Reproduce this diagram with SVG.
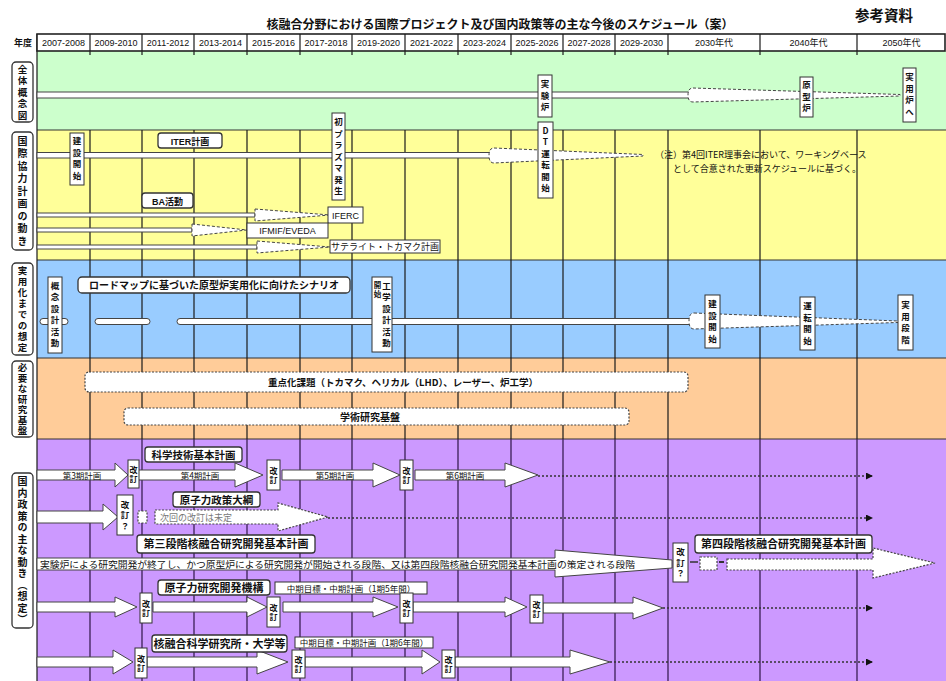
<svg xmlns="http://www.w3.org/2000/svg" width="946" height="681" viewBox="0 0 946 681">
<style>
text { font-family: "Liberation Sans", "Noto Sans CJK JP", sans-serif; fill:#111; }
.j { font-family: "Noto Sans CJK JP", "Liberation Sans", sans-serif; }
.b { font-weight: bold; }
.v { writing-mode: vertical-rl; text-orientation: upright; text-anchor: middle; font-family: "Noto Sans CJK JP", sans-serif; }
.h { text-anchor: middle; }
.box { fill:#fff; stroke:#333; stroke-width:1; }
.rl { fill:#fff; stroke:#333; stroke-width:1.3; }
.bar { fill:#fff; stroke:#444; stroke-width:1; }
.dsh { stroke-dasharray: 3 2; }
.dbox { fill:#fff; stroke:#444; stroke-width:1.2; stroke-dasharray: 2 1.5; }
.dot { fill:none; stroke:#333; stroke-width:1.5; stroke-dasharray: 2 2; }
.grid { stroke:#1a1a1a; stroke-width:1.2; }
.pgrid { stroke:#3b1f55; stroke-width:1.3; }
.sep { stroke:#333; stroke-width:1; }
</style>
<defs>
<marker id="ah" markerWidth="7" markerHeight="7" refX="6" refY="3.5" orient="auto" markerUnits="userSpaceOnUse"><path d="M0,0 L7,3.5 L0,7 Z" fill="#111"/></marker>
</defs>
<rect width="946" height="681" fill="#fff"/>

<!-- title -->
<g id="title">
<text x="500" y="29" class="j b h" font-size="12">核融合分野における国際プロジェクト及び国内政策等の主な今後のスケジュール（案）</text>
<text x="884" y="21" class="j b h" font-size="14.5">参考資料</text>
</g>

<!-- row backgrounds -->
<g id="rows">
<rect x="37" y="51" width="909" height="79" fill="#ccffcc"/>
<rect x="37" y="130" width="909" height="130" fill="#ffff99"/>
<rect x="37" y="260" width="909" height="98" fill="#99ccff"/>
<rect x="37" y="358" width="909" height="81" fill="#ffcc99"/>
<rect x="37" y="439" width="909" height="242" fill="#cc99ff"/>
<line x1="37" y1="130" x2="946" y2="130" class="sep"/>
<line x1="37" y1="260" x2="946" y2="260" class="sep"/>
<line x1="37" y1="358" x2="946" y2="358" class="sep"/>
<line x1="37" y1="439" x2="946" y2="439" class="sep"/>
</g>

<!-- grid -->
<g id="grid">
<line x1="37" y1="34" x2="37" y2="681" class="grid"/>
<g class="grid">
<line x1="90" y1="130" x2="90" y2="439"/><line x1="142" y1="130" x2="142" y2="439"/><line x1="194" y1="130" x2="194" y2="439"/>
<line x1="247" y1="130" x2="247" y2="439"/><line x1="300" y1="130" x2="300" y2="439"/><line x1="352" y1="130" x2="352" y2="439"/>
<line x1="405" y1="130" x2="405" y2="439"/><line x1="458" y1="130" x2="458" y2="439"/><line x1="511" y1="130" x2="511" y2="439"/>
<line x1="563" y1="130" x2="563" y2="439"/><line x1="615" y1="130" x2="615" y2="439"/><line x1="668" y1="130" x2="668" y2="439"/>
<line x1="760" y1="130" x2="760" y2="439"/><line x1="857" y1="130" x2="857" y2="439"/>
<line x1="90" y1="51" x2="90" y2="55"/><line x1="142" y1="51" x2="142" y2="55"/><line x1="194" y1="51" x2="194" y2="55"/>
<line x1="247" y1="51" x2="247" y2="55"/><line x1="300" y1="51" x2="300" y2="55"/><line x1="352" y1="51" x2="352" y2="55"/>
<line x1="405" y1="51" x2="405" y2="55"/><line x1="458" y1="51" x2="458" y2="55"/><line x1="511" y1="51" x2="511" y2="55"/>
<line x1="563" y1="51" x2="563" y2="55"/><line x1="615" y1="51" x2="615" y2="55"/><line x1="668" y1="51" x2="668" y2="55"/>
<line x1="760" y1="51" x2="760" y2="55"/><line x1="857" y1="51" x2="857" y2="55"/>
</g>
<g class="pgrid">
<line x1="90" y1="439" x2="90" y2="681"/><line x1="142" y1="439" x2="142" y2="681"/><line x1="194" y1="439" x2="194" y2="681"/>
<line x1="247" y1="439" x2="247" y2="681"/><line x1="300" y1="439" x2="300" y2="681"/><line x1="352" y1="439" x2="352" y2="681"/>
<line x1="405" y1="439" x2="405" y2="681"/><line x1="458" y1="439" x2="458" y2="681"/><line x1="511" y1="439" x2="511" y2="681"/>
<line x1="563" y1="439" x2="563" y2="681"/><line x1="615" y1="439" x2="615" y2="681"/><line x1="668" y1="439" x2="668" y2="681"/>
<line x1="760" y1="439" x2="760" y2="681"/><line x1="857" y1="439" x2="857" y2="681"/>
</g>
</g>

<!-- header -->
<g id="header">
<text x="23" y="46" class="j b h" font-size="9">年度</text>
<rect x="37" y="34" width="908" height="17" fill="#fff" stroke="#222" stroke-width="1.6"/>
<g class="grid">
<line x1="90" y1="34" x2="90" y2="51"/><line x1="142" y1="34" x2="142" y2="51"/><line x1="194" y1="34" x2="194" y2="51"/>
<line x1="247" y1="34" x2="247" y2="51"/><line x1="300" y1="34" x2="300" y2="51"/><line x1="352" y1="34" x2="352" y2="51"/>
<line x1="405" y1="34" x2="405" y2="51"/><line x1="458" y1="34" x2="458" y2="51"/><line x1="511" y1="34" x2="511" y2="51"/>
<line x1="563" y1="34" x2="563" y2="51"/><line x1="615" y1="34" x2="615" y2="51"/><line x1="668" y1="34" x2="668" y2="51"/>
<line x1="760" y1="34" x2="760" y2="51"/><line x1="857" y1="34" x2="857" y2="51"/>
</g>
<g font-size="9" class="h">
<text x="63.5" y="46" class="h">2007-2008</text><text x="116" y="46" class="h">2009-2010</text><text x="168" y="46" class="h">2011-2012</text>
<text x="220.5" y="46" class="h">2013-2014</text><text x="273.5" y="46" class="h">2015-2016</text><text x="326" y="46" class="h">2017-2018</text>
<text x="378.5" y="46" class="h">2019-2020</text><text x="431.5" y="46" class="h">2021-2022</text><text x="484.5" y="46" class="h">2023-2024</text>
<text x="537" y="46" class="h">2025-2026</text><text x="589" y="46" class="h">2027-2028</text><text x="641.5" y="46" class="h">2029-2030</text>
<text x="714" y="46" class="h">2030年代</text><text x="808.5" y="46" class="h">2040年代</text><text x="901.5" y="46" class="h">2050年代</text>
</g>
</g>

<!-- row labels -->
<g id="label-overall"><rect x="12" y="62" width="21" height="60" rx="4" class="rl"/><text x="22.5" y="93" class="v b" font-size="9.5" style="letter-spacing:2px">全体概念図</text></g>
<g id="label-intl"><rect x="12" y="132" width="21" height="118" rx="4" class="rl"/><text x="22.5" y="192" class="v b" font-size="10" style="letter-spacing:2.5px">国際協力計画の動き</text></g>
<g id="label-practical"><rect x="12" y="263" width="21" height="92" rx="4" class="rl"/><text x="22.5" y="310" class="v b" font-size="9.5" style="letter-spacing:1.5px">実用化までの想定</text></g>
<g id="label-research"><rect x="12" y="361" width="21" height="76" rx="4" class="rl"/><text x="22.5" y="399.5" class="v b" font-size="9.5" style="letter-spacing:1px">必要な研究基盤</text></g>
<g id="label-policy"><rect x="12" y="473" width="21" height="155" rx="4" class="rl"/><text x="22.5" y="551" class="v b" font-size="10" style="letter-spacing:1.5px">国内政策の主な動き（想定）</text></g>

<!-- connectors: timeline bars and arrows -->
<g id="connectors">
<!-- green -->
<rect x="37" y="92" width="655" height="6" class="bar"/>
<path d="M693,88 L900,94.5 L900,96 L693,102 Q688,102 688,95 Q688,88 693,88 Z" class="bar dsh"/>
<!-- ITER -->
<rect x="37" y="152.5" width="456" height="5.5" class="bar"/>
<path d="M494,148 L643,154.5 L643,156 L494,163 Q489,163 489,155.5 Q489,148 494,148 Z" class="bar dsh"/>
<!-- BA -->
<rect x="37" y="213" width="218" height="4" class="bar"/>
<path d="M255,209 L330,215 L255,221 Z" class="bar dsh"/>
<rect x="37" y="228" width="155" height="4" class="bar"/>
<path d="M192,224 L247,230 L192,236 Z" class="bar dsh"/>
<rect x="37" y="245" width="220" height="4" class="bar"/>
<path d="M257,241 L330,247 L257,253 Z" class="bar dsh"/>
<!-- blue -->
<rect x="40" y="318.5" width="28" height="6" rx="3" class="bar"/>
<rect x="95" y="318.5" width="55" height="6" rx="3" class="bar"/>
<rect x="177" y="318.5" width="515" height="6" rx="3" class="bar"/>
<path d="M694,313 L898,321 L898,322.5 L694,329 Q689,329 689,321 Q689,313 694,313 Z" class="bar dsh"/>
<!-- purple row A -->
<path d="M37,470 L115,470 L115,463 L128,475 L115,487 L115,480 L37,480 Z" class="bar"/>
<path d="M138,470 L235,470 L235,463 L263,475 L235,487 L235,480 L138,480 Z" class="bar"/>
<path d="M282,470 L373,470 L373,463 L400,475 L373,487 L373,480 L282,480 Z" class="bar"/>
<path d="M415,470 L505,470 L505,463 L538,475 L505,487 L505,480 L415,480 Z" class="bar"/>
<line x1="538" y1="476" x2="872" y2="476" class="dot" marker-end="url(#ah)"/>
<!-- row B -->
<path d="M37,511 L103,511 L103,504 L118,517 L103,530 L103,523 L37,523 Z" class="bar"/>
<rect x="138" y="511" width="9" height="12" class="dbox"/>
<path d="M155,510 L278,510 L278,503 L328,517 L278,531 L278,524 L155,524 Z" class="dbox"/>
<line x1="328" y1="518" x2="872" y2="518" class="dot" marker-end="url(#ah)"/>
<!-- row C -->
<path d="M37,558 L555,558 L555,550 L672,560 L672,568 L555,577 L555,570 L37,570 Z" class="bar"/>
<line x1="690" y1="562" x2="698" y2="562" stroke="#333" stroke-width="1.5"/>
<rect x="700" y="557" width="17" height="13" class="dbox"/>
<line x1="719" y1="562" x2="724" y2="562" stroke="#333" stroke-width="2"/>
<path d="M727,559 L873,559 L873,548 L935,563 L873,578 L873,570 L727,570 Z" class="dbox"/>
<!-- row D -->
<path d="M37,602 L115,602 L115,597 L137,607 L115,617 L115,612 L37,612 Z" class="bar"/>
<path d="M153,602 L247,602 L247,597 L267,607 L247,617 L247,612 L153,612 Z" class="bar"/>
<path d="M283,602 L373,602 L373,597 L398,607 L373,617 L373,612 L283,612 Z" class="bar"/>
<path d="M413,602 L505,602 L505,597 L527,607 L505,617 L505,612 L413,612 Z" class="bar"/>
<path d="M543,603 L633,603 L633,597 L663,608 L633,619 L633,613 L543,613 Z" class="bar"/>
<line x1="663" y1="608" x2="872" y2="608" class="dot" marker-end="url(#ah)"/>
<!-- row E -->
<path d="M37,657 L113,657 L113,650 L133,662 L113,674 L113,667 L37,667 Z" class="bar"/>
<path d="M147,657 L257,657 L257,650 L288,662 L257,674 L257,667 L147,667 Z" class="bar"/>
<path d="M305,657 L422,657 L422,650 L440,662 L422,674 L422,667 L305,667 Z" class="bar"/>
<path d="M455,657 L570,657 L570,650 L610,662 L570,674 L570,667 L455,667 Z" class="bar"/>
<line x1="610" y1="662" x2="872" y2="662" class="dot" marker-end="url(#ah)"/>
</g>

<!-- green row nodes -->
<g id="n-jikkenro"><rect x="538" y="75" width="14" height="42" class="box"/><text x="545" y="97" class="v b" font-size="8.5" style="letter-spacing:3px">実験炉</text></g>
<g id="n-genkeiro"><rect x="800" y="77" width="13" height="40" class="box"/><text x="806.5" y="98" class="v b" font-size="8.5" style="letter-spacing:3px">原型炉</text></g>
<g id="n-jitsuyoro"><rect x="903" y="68" width="13" height="54" class="box"/><text x="909.5" y="96" class="v b" font-size="8.5" style="letter-spacing:3px">実用炉へ</text></g>

<!-- yellow row nodes -->
<g id="n-iter-start"><rect x="70" y="133" width="14" height="52" class="box"/><text x="77" y="160" class="v b" font-size="8.5" style="letter-spacing:3px">建設開始</text></g>
<g id="n-iter"><rect x="158" y="133" width="64" height="15" rx="3" class="rl"/><text x="190" y="144.5" class="h b" font-size="9">ITER計画</text></g>
<g id="n-first-plasma"><rect x="332" y="113" width="13" height="87" class="box"/><text x="338.5" y="158" class="v b" font-size="8.5" style="letter-spacing:3px">初プラズマ発生</text></g>
<g id="n-dt"><rect x="538" y="122" width="15" height="76" class="box"/><text x="545.5" y="161" class="v b" font-size="8.5" style="letter-spacing:3px">DT運転開始</text></g>
<g id="n-note"><text x="655" y="158" font-size="9" class="j">（注）第4回ITER理事会において、ワーキングベース</text><text x="673" y="171.5" font-size="9" class="j">として合意された更新スケジュールに基づく。</text></g>
<g id="n-ba"><rect x="142" y="193" width="51" height="15" rx="3" class="rl"/><text x="167.5" y="204.5" class="h b" font-size="9">BA活動</text></g>
<g id="n-iferc"><rect x="328" y="207" width="35" height="16" class="box"/><text x="345.5" y="218.5" class="h" font-size="9">IFERC</text></g>
<g id="n-ifmif"><rect x="247" y="223" width="81" height="15" class="box"/><text x="287.5" y="234" class="h" font-size="9">IFMIF/EVEDA</text></g>
<g id="n-satellite"><rect x="330" y="240" width="110" height="13" class="box"/><text x="385" y="250" class="h j" font-size="9">サテライト・トカマク計画</text></g>

<!-- blue row nodes -->
<g id="n-concept"><rect x="48" y="277" width="14" height="76" class="box"/><text x="55" y="316" class="v b" font-size="8.5" style="letter-spacing:3px">概念設計活動</text></g>
<g id="n-roadmap"><rect x="78" y="277" width="272" height="16" rx="4" class="rl"/><text x="214" y="289" class="h b j" font-size="10">ロードマップに基づいた原型炉実用化に向けたシナリオ</text></g>
<g id="n-eng"><rect x="372" y="277" width="20" height="75" class="box"/><text x="386.5" y="316" class="v b" font-size="8.5" style="letter-spacing:3px">工学設計活動</text><text x="377.5" y="290" class="v b" font-size="7.5" style="letter-spacing:1px">開始</text></g>
<g id="n-construct"><rect x="705" y="295" width="15" height="53" class="box"/><text x="712.5" y="323" class="v b" font-size="8.5" style="letter-spacing:3px">建設開始</text></g>
<g id="n-operate"><rect x="800" y="297" width="15" height="53" class="box"/><text x="807.5" y="325" class="v b" font-size="8.5" style="letter-spacing:3px">運転開始</text></g>
<g id="n-practical"><rect x="898" y="295" width="15" height="55" class="box"/><text x="905.5" y="324" class="v b" font-size="8.5" style="letter-spacing:3px">実用段階</text></g>

<!-- orange row nodes -->
<g id="n-priority"><rect x="85" y="372" width="603" height="20" rx="4" class="dbox"/><text x="403" y="386" class="h b j" font-size="9.5">重点化課題（トカマク、ヘリカル（LHD）、レーザー、炉工学）</text></g>
<g id="n-academic"><rect x="124" y="408" width="505" height="17" rx="4" class="dbox"/><text x="370" y="420.5" class="h b j" font-size="10">学術研究基盤</text></g>

<!-- purple row nodes -->
<g id="n-stplan"><rect x="145" y="447" width="97" height="15" rx="3" class="rl"/><text x="193.5" y="458.5" class="h b j" font-size="10.5">科学技術基本計画</text></g>
<g id="t-rowA" font-size="8.5" class="j">
<text x="82" y="478.5" class="h j">第3期計画</text><text x="200" y="478.5" class="h j">第4期計画</text>
<text x="335" y="478.5" class="h j">第5期計画</text><text x="465" y="478.5" class="h j">第6期計画</text>
</g>
<g id="n-rev-a1"><rect x="128" y="460" width="11" height="28" class="box"/><text x="133.5" y="474.5" class="v b" font-size="8" style="letter-spacing:1px">改訂</text></g>
<g id="n-rev-a2"><rect x="267" y="460" width="13" height="30" class="box"/><text x="273.5" y="475.5" class="v b" font-size="8" style="letter-spacing:1px">改訂</text></g>
<g id="n-rev-a3"><rect x="400" y="460" width="13" height="30" class="box"/><text x="406.5" y="475.5" class="v b" font-size="8" style="letter-spacing:1px">改訂</text></g>

<g id="n-nuclearpolicy"><rect x="173" y="492" width="87" height="15" rx="3" class="rl"/><text x="216.5" y="503.5" class="h b j" font-size="10.5">原子力政策大綱</text></g>
<g id="n-rev-b1"><rect x="117" y="495" width="16" height="40" class="box"/><text x="125" y="516" class="v b" font-size="8.5" style="letter-spacing:2px">改訂？</text></g>
<text x="160" y="521" font-size="9" class="j" style="fill:#777">次回の改訂は未定</text>

<g id="n-plan3"><rect x="137" y="535" width="178" height="18" rx="3" class="rl"/><text x="226" y="548" class="h b j" font-size="11">第三段階核融合研究開発基本計画</text></g>
<text x="40" y="567.5" font-size="9.5" class="j" textLength="595" lengthAdjust="spacingAndGlyphs">実験炉による研究開発が終了し、かつ原型炉による研究開発が開始される段階、又は第四段階核融合研究開発基本計画の策定される段階</text>
<g id="n-rev-c1"><rect x="673" y="543" width="15" height="39" class="box"/><text x="680.5" y="563.5" class="v b" font-size="8.5" style="letter-spacing:2px">改訂？</text></g>
<g id="n-plan4"><rect x="695" y="535" width="177" height="18" rx="3" class="rl"/><text x="783.5" y="548" class="h b j" font-size="11">第四段階核融合研究開発基本計画</text></g>

<g id="n-jaea"><rect x="158" y="580" width="112" height="15" rx="3" class="rl"/><text x="214" y="591.5" class="h b j" font-size="11">原子力研究開発機構</text></g>
<g id="n-jaea-term"><rect x="275" y="582" width="152" height="12" class="box"/><text x="351" y="591.5" class="h j" font-size="8.5">中期目標・中期計画（1期5年間）</text></g>
<g id="n-rev-d1"><rect x="140" y="593" width="12" height="30" class="box"/><text x="146" y="608.5" class="v b" font-size="8" style="letter-spacing:1px">改訂</text></g>
<g id="n-rev-d2"><rect x="267" y="597" width="13" height="30" class="box"/><text x="273.5" y="612.5" class="v b" font-size="8" style="letter-spacing:1px">改訂</text></g>
<g id="n-rev-d3"><rect x="400" y="593" width="13" height="30" class="box"/><text x="406.5" y="608.5" class="v b" font-size="8" style="letter-spacing:1px">改訂</text></g>
<g id="n-rev-d4"><rect x="530" y="595" width="13" height="28" class="box"/><text x="536.5" y="609.5" class="v b" font-size="8" style="letter-spacing:1px">改訂</text></g>

<g id="n-nifs"><rect x="152" y="635" width="135" height="17" rx="3" class="rl"/><text x="219.5" y="647.5" class="h b j" font-size="11">核融合科学研究所・大学等</text></g>
<g id="n-nifs-term"><rect x="295" y="637" width="138" height="11" class="box"/><text x="364" y="645.5" class="h j" font-size="8.5">中期目標・中期計画（1期6年間）</text></g>
<g id="n-rev-e1"><rect x="135" y="648" width="12" height="30" class="box"/><text x="141" y="663.5" class="v b" font-size="8" style="letter-spacing:1px">改訂</text></g>
<g id="n-rev-e2"><rect x="292" y="650" width="13" height="28" class="box"/><text x="298.5" y="664.5" class="v b" font-size="8" style="letter-spacing:1px">改訂</text></g>
<g id="n-rev-e3"><rect x="442" y="650" width="13" height="28" class="box"/><text x="448.5" y="664.5" class="v b" font-size="8" style="letter-spacing:1px">改訂</text></g>
</svg>
